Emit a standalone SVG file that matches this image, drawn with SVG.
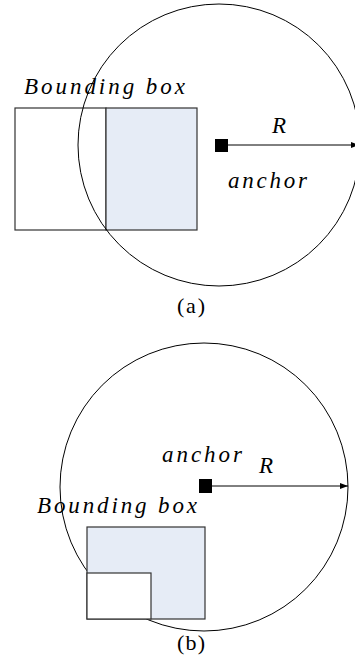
<svg xmlns="http://www.w3.org/2000/svg" width="355" height="667" viewBox="0 0 355 667">
<style>
.circ{fill:none;stroke:#000;stroke-width:1}
.box{stroke:#333;stroke-width:1.2}
.shade{fill:#E6ECF6}
.white{fill:#fff}
.lbl{font-family:"Liberation Serif","DejaVu Serif",serif;font-style:italic;font-size:23px;fill:#000}
.cap{font-family:"Liberation Serif","DejaVu Serif",serif;font-size:22px;fill:#000}
.conn{stroke:#000;stroke-width:1;fill:none}
</style>
<defs>
<marker id="arr" viewBox="0 0 10 10" refX="10" refY="5" markerWidth="8" markerHeight="6" markerUnits="userSpaceOnUse" orient="auto" preserveAspectRatio="none">
<path d="M0,0 L10,5 L0,10 Z" fill="#000"/>
</marker>
</defs>
<g id="panel-a">
<g id="box-a-white"><rect class="box white" x="15" y="108" width="91" height="122"/></g>
<g id="box-a-shaded"><rect class="box shade" x="106" y="108" width="91" height="122"/></g>
<g id="circle-a"><circle class="circ" cx="219" cy="145" r="141"/></g>
<g id="label-a-bbox"><text class="lbl" x="24" y="94" textLength="161" lengthAdjust="spacing">Bounding box</text></g>
<g id="anchor-a"><rect x="215" y="139" width="13" height="13" fill="#000"/></g>
<g id="label-a-R"><text class="lbl" x="272" y="133">R</text></g>
<g id="label-a-anchor"><text class="lbl" x="228" y="188" textLength="79" lengthAdjust="spacing">anchor</text></g>
<g id="caption-a"><text class="cap" x="177" y="313" textLength="28" lengthAdjust="spacing">(a)</text></g>
</g>
<g id="panel-b">
<g id="circle-b"><circle class="circ" cx="204" cy="487" r="144"/></g>
<g id="box-b-shaded"><rect class="box shade" x="87" y="527" width="118" height="92"/></g>
<g id="box-b-white"><rect class="box white" x="87" y="573" width="64" height="46"/></g>
<g id="label-b-bbox"><text class="lbl" x="37" y="513" textLength="160" lengthAdjust="spacing">Bounding box</text></g>
<g id="anchor-b"><rect x="199" y="479" width="13" height="14" fill="#000"/></g>
<g id="label-b-anchor"><text class="lbl" x="162" y="462" textLength="80" lengthAdjust="spacing">anchor</text></g>
<g id="label-b-R"><text class="lbl" x="259" y="473">R</text></g>
<g id="caption-b"><text class="cap" x="177" y="650" textLength="28" lengthAdjust="spacing">(b)</text></g>
</g>
<g id="connectors">
<line class="conn" x1="228" y1="145" x2="359" y2="145" marker-end="url(#arr)"/>
<line class="conn" x1="212" y1="486" x2="348" y2="486" marker-end="url(#arr)"/>
</g>
</svg>
